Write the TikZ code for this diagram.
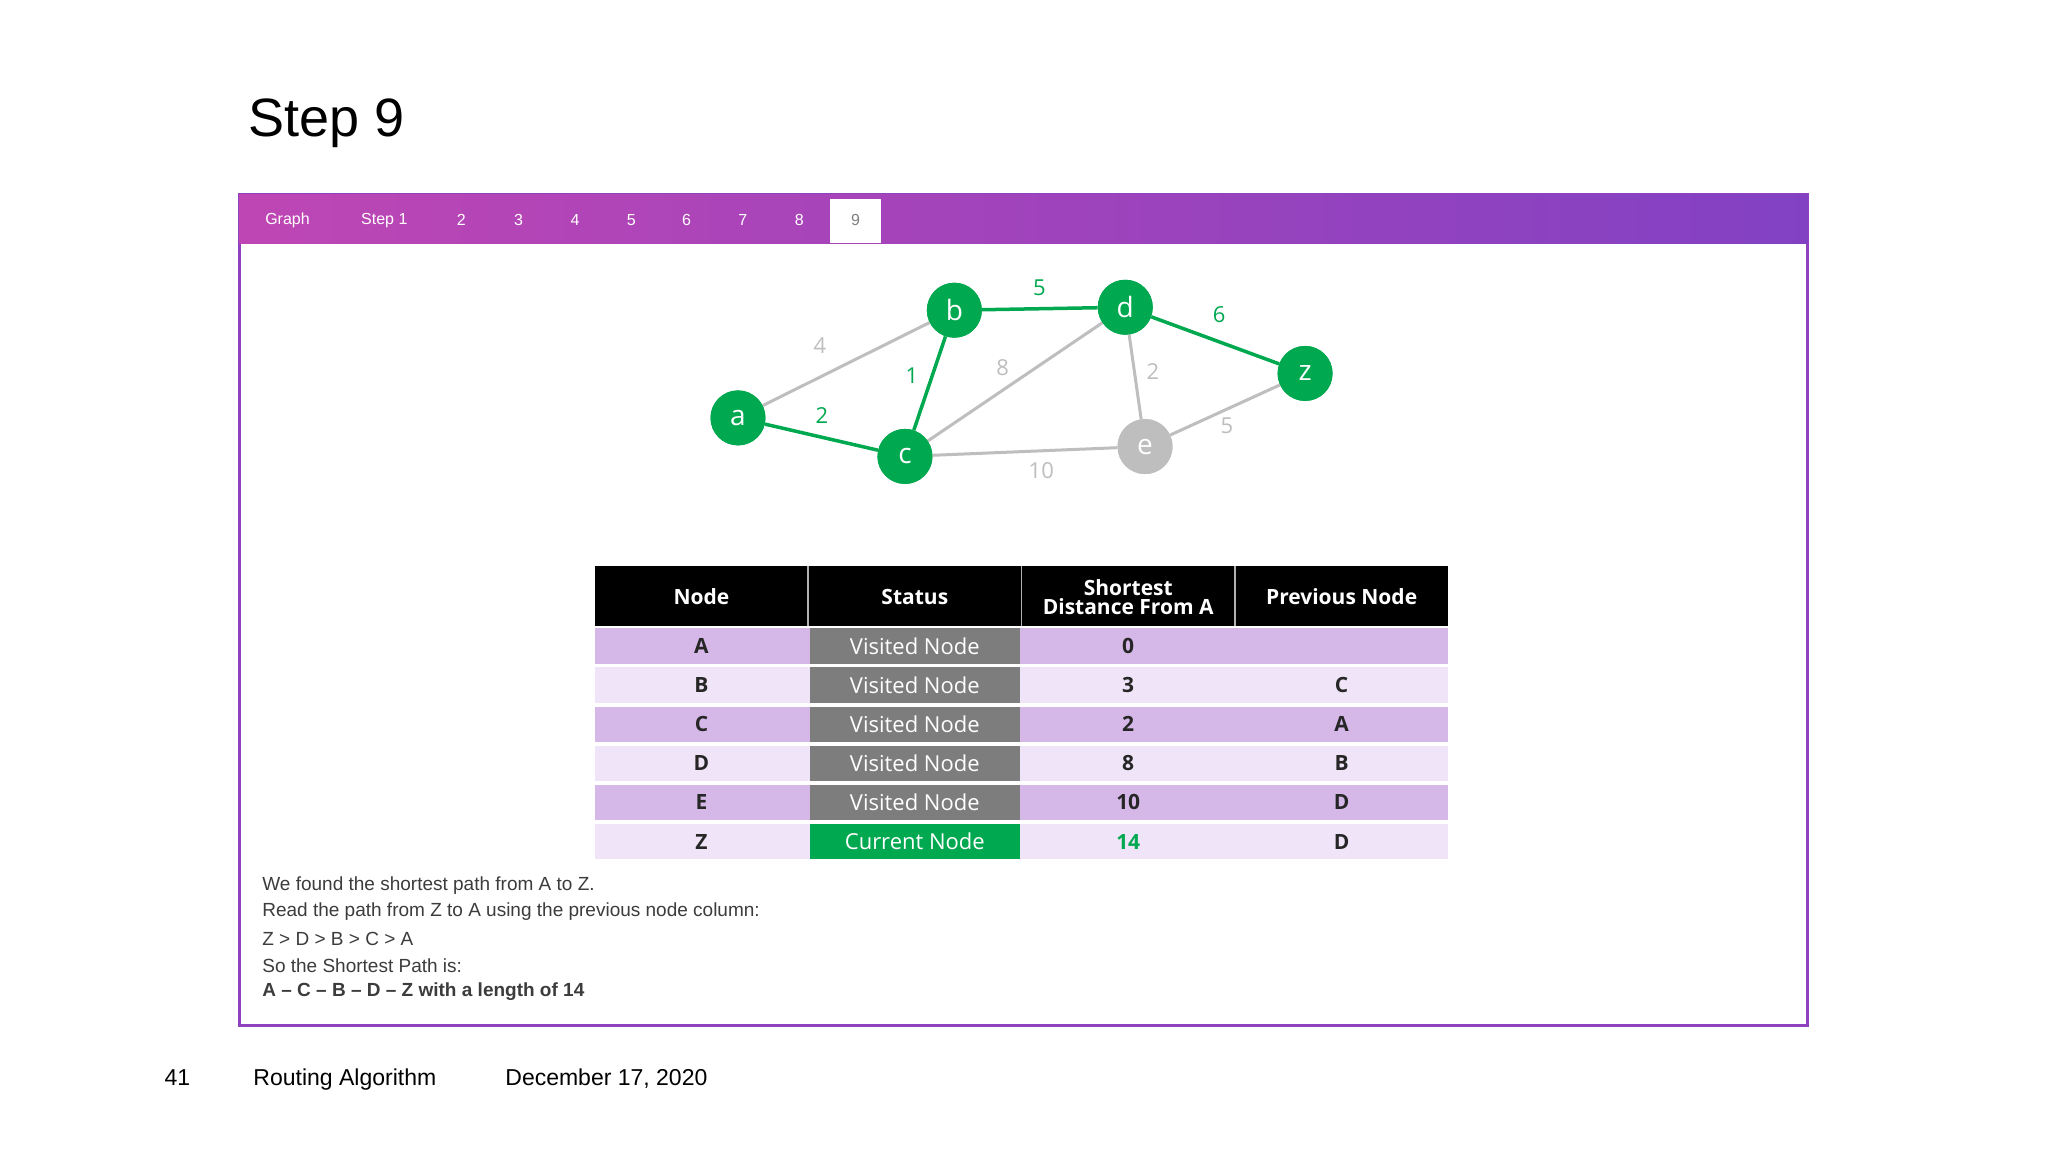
\documentclass[tikz,border=0pt]{standalone}
\usepackage{fontspec}
\setmainfont{Liberation Sans}
\newfontfamily\tabfont{Open Sans}
\usetikzlibrary{calc}
\definecolor{gr}{RGB}{0,168,80}
\definecolor{lg}{RGB}{190,190,190}
\definecolor{pA}{RGB}{214,184,232}
\definecolor{pB}{RGB}{240,228,248}
\definecolor{vis}{RGB}{125,125,125}
\definecolor{barL}{RGB}{190,70,180}
\definecolor{barR}{RGB}{130,65,195}
\definecolor{txt}{RGB}{60,60,60}
\definecolor{dk}{RGB}{38,38,38}
\tikzset{
 gnode/.style={circle,fill=gr,minimum size=55pt,inner sep=0pt,text=white,font=\tabfont\fontsize{28}{28}\selectfont},
 enode/.style={gnode,fill=lg},
 ge/.style={gr,line width=3.5pt},
 le/.style={lg,line width=3pt},
 gl/.style={text=gr,font=\tabfont\fontsize{22}{22}\selectfont},
 ll/.style={text=lg,font=\tabfont\fontsize{22}{22}\selectfont},
 tab/.style={text=white,font=\fontsize{16}{16}\selectfont},
 cell/.style={font=\tabfont\bfseries\fontsize{21}{21}\selectfont,text=dk},
 para/.style={anchor=west,text=txt,font=\fontsize{19}{19}\selectfont}
}
\begin{document}
\begin{tikzpicture}[x=0.988pt,y=-0.988pt]
\useasboundingbox (0,0) rectangle (2073,1166);
\fill[white] (0,0) rectangle (2073,1166);
\node[anchor=base west,font=\fontsize{54}{54}\selectfont] (title) at (248,138) {Step 9};
% frame
\draw[barR!80!barL,line width=3pt] (242,197) rectangle (1830,1038);
\shade[left color=barL,right color=barR] (242,197) rectangle (1830,246);
\fill[white] (840,201) rectangle (892,246);
\foreach \x/\t [count=\i] in {291/Graph,389/Step 1,467/2,525/3,582/4,639/5,695/6,752/7,809/8}
  \node[tab] (t\i) at (\x,223) {\t};
\node[tab,text=gray] (t10) at (866,223) {9};
% graph
\node[gnode] (a) at (747,423) {a};
\node[gnode] (b) at (966,314) {b};
\node[gnode] (d) at (1139,311) {d};
\node[gnode] (z) at (1321,378) {z};
\node[gnode] (c) at (916,462) {c};
\node[enode] (e) at (1159,452) {e};
\draw[le] (a) -- (b);
\draw[le] (c) -- (d);
\draw[le] (d) -- (e);
\draw[le] (e) -- (z);
\draw[le] (c) -- (e);
\draw[ge] (a) -- (c);
\draw[ge] (b) -- (c);
\draw[ge] (b) -- (d);
\draw[ge] (d) -- (z);
\node[gnode] at (a) {a};\node[gnode] at (b) {b};\node[gnode] at (c) {c};
\node[gnode] at (d) {d};\node[gnode] at (z) {z};\node[enode] at (e) {e};
\node[ll] (l1) at (830,350) {4};
\node[gl] (l2) at (1052,291) {5};
\node[gl] (l3) at (1234,318) {6};
\node[gl] (l4) at (923,380) {1};
\node[ll] (l5) at (1015,372) {8};
\node[ll] (l6) at (1167,376) {2};
\node[gl] (l7) at (832,421) {2};
\node[ll] (l8) at (1242,431) {5};
\node[ll] (l9) at (1054,476) {10};
% table
\def\xa{602}\def\xb{818}\def\xc{1034}\def\xd{1250}\def\xe{1466}
\fill[black] (\xa,573) rectangle (\xe,634);
\foreach \x in {\xb,\xc,\xd} \draw[white!70!black,line width=1.5pt] (\x,573) -- (\x,634);
\node[cell,text=white] (h1) at (710,604) {Node};
\node[cell,text=white] (h2) at (926,604) {Status};
\node[cell,text=white,align=center] (h3) at (1142,604) {Shortest\\[-2pt]Distance From A};
\node[cell,text=white] (h4) at (1358,604) {Previous Node};
\foreach \n/\d/\p/\rc/\dc [count=\i] in {A/0//pA/dk,B/3/C/pB/dk,C/2/A/pA/dk,D/8/B/pB/dk,E/10/D/pA/dk,Z/14/D/pB/gr}{
  \pgfmathsetmacro\ya{634+(\i-1)*39.6}
  \pgfmathsetmacro\yb{\ya+39.6}
  \pgfmathsetmacro\ym{(\ya+\yb)/2}
  \fill[\rc] (\xa,\ya+2) rectangle (\xe,\yb-2);
  \node[cell] (n\i) at (710,\ym) {\n};
  \node[cell,text=\dc] (d\i) at (1142,\ym) {\d};
  \node[cell] (p\i) at (1358,\ym) {\p};
}
\foreach \i in {1,...,5}{
  \pgfmathsetmacro\ya{634+(\i-1)*39.6}
  \fill[vis] (\xb+2,\ya+2) rectangle (\xc-2,\ya+37.6);
  \node[cell,text=white,font=\tabfont\fontsize{22}{22}\selectfont] (s\i) at (926,\ya+19.8) {Visited Node};
}
\fill[gr] (\xb+2,834) rectangle (\xc-2,869.6);
\node[cell,text=white,font=\tabfont\fontsize{22}{22}\selectfont] (s6) at (926,852) {Current Node};
% text
\node[para] (p1) at (262,896) {We found the shortest path from A to Z.};
\node[para] (p2) at (262,923) {Read the path from Z to A using the previous node column:};
\node[para] (p3) at (262,950) {Z > D > B > C > A};
\node[para] (p4) at (262,977) {So the Shortest Path is:};
\node[para,font=\bfseries\fontsize{19}{19}\selectfont] (p5) at (262,1004) {A -- C -- B -- D -- Z with a length of 14};
% footer
\node[anchor=base west,font=\fontsize{23}{23}\selectfont] (f1) at (163,1099) {41};
\node[anchor=base west,font=\fontsize{23}{23}\selectfont] (f2) at (253,1099) {Routing Algorithm};
\node[anchor=base west,font=\fontsize{23}{23}\selectfont] (f3) at (508,1099) {December 17, 2020};
\end{tikzpicture}
\end{document}
